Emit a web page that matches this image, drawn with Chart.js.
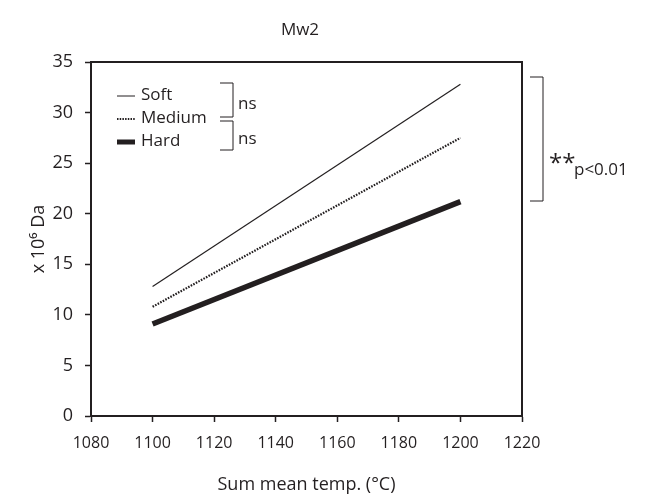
<!DOCTYPE html>
<html><head><meta charset="utf-8">
<script src="https://cdn.jsdelivr.net/npm/chart.js@4/dist/chart.umd.min.js"></script>
<style>html,body{margin:0;padding:0;background:#fff}#wrap{width:657px;height:498px}</style>
</head><body><div id="wrap"><canvas id="c" width="657" height="498"></canvas></div>
<script>
const temps = [1100, 1200];
const soft = [12.8, 32.8];
const medium = [10.8, 27.5];
const hard = [9.1, 21.2];
const seriesNames = ['Soft', 'Medium', 'Hard'];
const chartTitle = 'Mw2';
const xTitle = 'Sum mean temp. (°C)';
const yTitle = 'x 10⁶ Da';
const FONT = '"Open Sans", "Noto Sans", sans-serif';
const INK = '#231f20';

const boxPlugin = {
  id: 'box',
  afterDraw(chart) {
    const {ctx, chartArea: a} = chart;
    ctx.save();
    ctx.strokeStyle = INK; ctx.lineWidth = 2;
    ctx.strokeRect(a.left, a.top, a.right - a.left, a.bottom - a.top);
    // title
    ctx.fillStyle = INK; ctx.textAlign = 'center'; ctx.textBaseline = 'middle';
    ctx.font = '17px ' + FONT;
    ctx.fillText(chartTitle, 300, 30);
    ctx.textAlign = 'left';
    // legend
    const lx = a.left + 26, ly = [96, 119, 142];
    const styles = [{w:1,d:[]},{w:2,d:[1.5,1.2]},{w:5,d:[]}];
    ctx.font = '17px ' + FONT;
    for (let i = 0; i < 3; i++) {
      ctx.beginPath(); ctx.lineWidth = styles[i].w; ctx.setLineDash(styles[i].d);
      ctx.moveTo(lx, ly[i]); ctx.lineTo(lx + 18, ly[i]); ctx.stroke();
      ctx.setLineDash([]);
      ctx.fillText(seriesNames[i], lx + 24, ly[i] - 1);
    }
    // ns brackets
    ctx.lineWidth = 1;
    const bx = 233;
    ctx.beginPath();
    ctx.moveTo(220, 83); ctx.lineTo(bx, 83); ctx.lineTo(bx, 117); ctx.lineTo(220, 117);
    ctx.moveTo(220, 121); ctx.lineTo(bx, 121); ctx.lineTo(bx, 150); ctx.lineTo(220, 150);
    ctx.stroke();
    ctx.font = '17px ' + FONT;
    ctx.fillText('ns', 238, 104);
    ctx.fillText('ns', 238, 139);
    // right bracket
    ctx.beginPath();
    ctx.moveTo(530, 77); ctx.lineTo(543, 77); ctx.lineTo(543, 201); ctx.lineTo(530, 201);
    ctx.stroke();
    ctx.font = '24px ' + FONT;
    ctx.fillText('**', 549, 164);
    ctx.font = '17px ' + FONT;
    ctx.fillText('p<0.01', 574, 170);
    ctx.restore();
  }
};

new Chart(document.getElementById('c'), {
  type: 'line',
  data: {
    datasets: [
      {label: seriesNames[0], data: temps.map((t,i)=>({x:t,y:soft[i]})), borderColor: INK, borderWidth: 1.2, pointRadius: 0},
      {label: seriesNames[1], data: temps.map((t,i)=>({x:t,y:medium[i]})), borderColor: INK, borderWidth: 2.2, borderDash: [1.6,1.3], pointRadius: 0},
      {label: seriesNames[2], data: temps.map((t,i)=>({x:t,y:hard[i]})), borderColor: INK, borderWidth: 5.5, pointRadius: 0}
    ]
  },
  options: {
    responsive: false, animation: false,
    layout: {padding: {left: 20, right: 135, top: 62, bottom: 0}},
    plugins: {
      legend: {display: false}, tooltip: {enabled: false}, title: {display: false}
    },
    scales: {
      x: {type: 'linear', min: 1080, max: 1220,
        afterFit: s => { s.height = 82; },
        ticks: {stepSize: 20, color: INK, font: {family: FONT, size: 16}, padding: 12, callback: v => String(v)},
        grid: {display: true, drawOnChartArea: false, drawTicks: true, tickLength: 6, color: INK, tickWidth: 1.5},
        border: {display: true, color: INK, width: 2},
        title: {display: true, text: xTitle, color: INK, font: {family: FONT, size: 18}, padding: {top: 0, bottom: 2}}
      },
      y: {min: 0, max: 35,
        afterFit: s => { s.width = 71; },
        ticks: {stepSize: 5, color: INK, font: {family: FONT, size: 18}, padding: 12},
        grid: {display: true, drawOnChartArea: false, drawTicks: true, tickLength: 6, color: INK, tickWidth: 1.5},
        border: {display: true, color: INK, width: 2},
        title: {display: true, text: yTitle, color: INK, font: {family: FONT, size: 18}, padding: {top: 8, bottom: 0}}
      }
    }
  },
  plugins: [boxPlugin]
});
</script></body></html>
